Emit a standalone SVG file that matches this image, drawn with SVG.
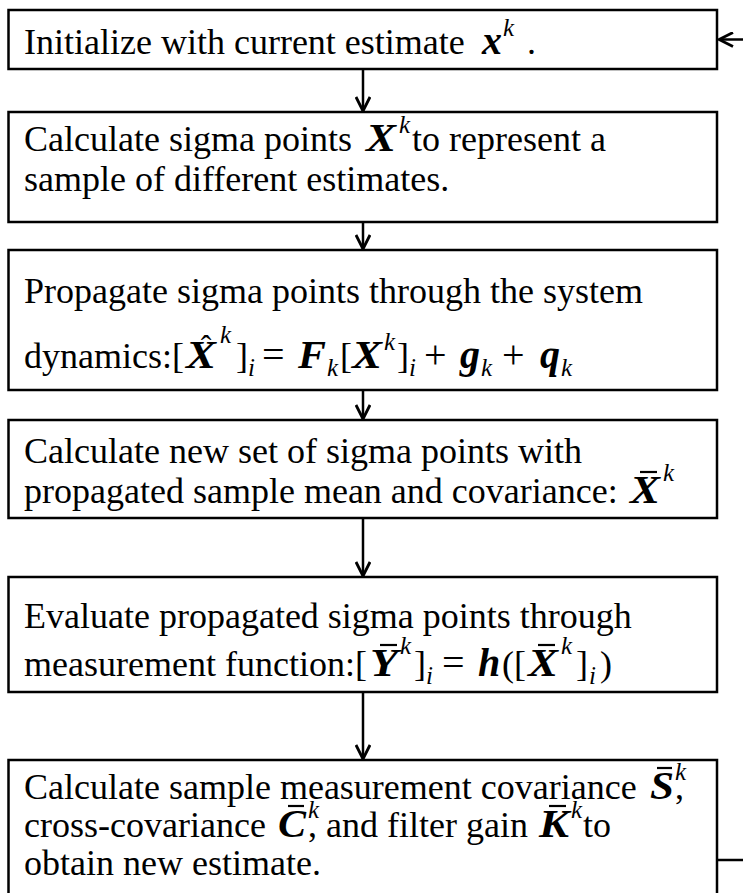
<svg xmlns="http://www.w3.org/2000/svg" width="743" height="893" viewBox="0 0 743 893">
<defs>
<style>
.box{fill:#fff;stroke:#000;stroke-width:2.5}
.t{font-family:"Liberation Serif","Times New Roman",serif;font-size:36px;fill:#000}
.m{font-family:"Liberation Serif","Times New Roman",serif;font-size:40px;font-weight:bold;font-style:italic;fill:#000}
.s{font-family:"Liberation Serif","Times New Roman",serif;font-size:25px;font-style:italic;fill:#000}
.o{font-family:"Liberation Serif","Times New Roman",serif;font-size:40px;fill:#000}
.acc{font-family:"Liberation Serif","Times New Roman",serif;font-size:32px;fill:#000;text-anchor:middle}
.bar{stroke:#000;stroke-width:2.2}
.c{stroke:#000;stroke-width:2.5;fill:none}
</style>
<marker id="ah" viewBox="0 0 16 16" refX="15" refY="8" markerWidth="16" markerHeight="16" markerUnits="userSpaceOnUse" orient="auto">
<path d="M1,1 L15,8 L1,15" fill="none" stroke="#000" stroke-width="2.8"/>
</marker>
</defs>
<rect width="743" height="893" fill="#fff"/>
<g id="connectors">
<line class="c" x1="363" y1="69" x2="363" y2="111" marker-end="url(#ah)"/>
<line class="c" x1="363" y1="222" x2="363" y2="249" marker-end="url(#ah)"/>
<line class="c" x1="363" y1="390" x2="363" y2="419" marker-end="url(#ah)"/>
<line class="c" x1="363" y1="518" x2="363" y2="576" marker-end="url(#ah)"/>
<line class="c" x1="363" y1="692" x2="363" y2="759" marker-end="url(#ah)"/>
<line class="c" x1="743" y1="860" x2="717" y2="860"/>
<line class="c" x1="743" y1="39.5" x2="719" y2="39.5" marker-end="url(#ah)"/>
</g>
<g id="n1">
<rect class="box" x="8.5" y="10" width="708.5" height="59"/>
<text class="t" x="24" y="54">Initialize with current estimate</text>
<text class="m" x="482" y="54">x</text>
<text class="s" x="503" y="36">k</text>
<text class="t" x="527" y="54">.</text>
</g>
<g id="n2">
<rect class="box" x="8.5" y="112" width="708.5" height="110"/>
<text class="t" x="24" y="151">Calculate sigma points</text>
<text class="m" x="366" y="151" textLength="30" lengthAdjust="spacingAndGlyphs">X</text>
<text class="s" x="399" y="133">k</text>
<text class="t" x="412" y="151">to represent a</text>
<text class="t" x="24" y="191">sample of different estimates.</text>
</g>
<g id="n3">
<rect class="box" x="8.5" y="250" width="708.5" height="140"/>
<text class="t" x="24" y="303">Propagate sigma points through the system</text>
<text class="t" x="24" y="368">dynamics:[</text>
<text class="m" x="186" y="368" textLength="30" lengthAdjust="spacingAndGlyphs">X</text>
<text class="acc" x="206" y="357">ˆ</text>
<text class="s" x="220" y="343">k</text>
<text class="t" x="236" y="368">]</text>
<text class="s" x="248" y="376">i</text>
<text class="o" x="262" y="368">=</text>
<text class="m" x="298" y="368" textLength="28" lengthAdjust="spacingAndGlyphs">F</text>
<text class="s" x="327" y="376">k</text>
<text class="t" x="340" y="368">[</text>
<text class="m" x="352" y="368" textLength="30" lengthAdjust="spacingAndGlyphs">X</text>
<text class="s" x="384" y="350">k</text>
<text class="t" x="397" y="368">]</text>
<text class="s" x="409" y="376">i</text>
<text class="o" x="424" y="368">+</text>
<text class="m" x="460" y="368">g</text>
<text class="s" x="481" y="376">k</text>
<text class="o" x="502" y="368">+</text>
<text class="m" x="540" y="368">q</text>
<text class="s" x="561" y="376">k</text>
</g>
<g id="n4">
<rect class="box" x="8.5" y="420" width="708.5" height="98"/>
<text class="t" x="24" y="463">Calculate new set of sigma points with</text>
<text class="t" x="24" y="503">propagated sample mean and covariance:</text>
<text class="m" x="630" y="503" textLength="30" lengthAdjust="spacingAndGlyphs">X</text>
<line class="bar" x1="640" y1="472" x2="657" y2="472"/>
<text class="s" x="663" y="481">k</text>
</g>
<g id="n5">
<rect class="box" x="8.5" y="577" width="708.5" height="115"/>
<text class="t" x="24" y="628">Evaluate propagated sigma points through</text>
<text class="t" x="24" y="676">measurement function:[</text>
<text class="m" x="370" y="676" textLength="28" lengthAdjust="spacingAndGlyphs">Y</text>
<line class="bar" x1="380" y1="645" x2="397" y2="645"/>
<text class="s" x="400" y="654">k</text>
<text class="t" x="414" y="676">]</text>
<text class="s" x="426" y="684">i</text>
<text class="o" x="442" y="676">=</text>
<text class="m" x="478" y="676">h</text>
<text class="t" x="502" y="676">([</text>
<text class="m" x="528" y="676" textLength="30" lengthAdjust="spacingAndGlyphs">X</text>
<line class="bar" x1="538" y1="645" x2="555" y2="645"/>
<text class="s" x="561" y="654">k</text>
<text class="t" x="576" y="676">]</text>
<text class="s" x="589" y="684">i</text>
<text class="t" x="600" y="676">)</text>
</g>
<g id="n6">
<rect class="box" x="8.5" y="760" width="708.5" height="150"/>
<text class="t" x="24" y="799">Calculate sample measurement covariance</text>
<text class="m" x="650" y="799" textLength="24" lengthAdjust="spacingAndGlyphs">S</text>
<line class="bar" x1="657" y1="768" x2="672" y2="768"/>
<text class="s" x="675" y="780">k</text>
<text class="t" x="675" y="799">,</text>
<text class="t" x="24" y="837">cross-covariance</text>
<text class="m" x="278" y="837" textLength="28" lengthAdjust="spacingAndGlyphs">C</text>
<line class="bar" x1="288" y1="806" x2="304" y2="806"/>
<text class="s" x="308" y="818">k</text>
<text class="t" x="308" y="837">, and filter gain</text>
<text class="m" x="539" y="837" textLength="30" lengthAdjust="spacingAndGlyphs">K</text>
<line class="bar" x1="549" y1="806" x2="566" y2="806"/>
<text class="s" x="571" y="818">k</text>
<text class="t" x="583" y="837">to</text>
<text class="t" x="24" y="875">obtain new estimate.</text>
</g>
</svg>
